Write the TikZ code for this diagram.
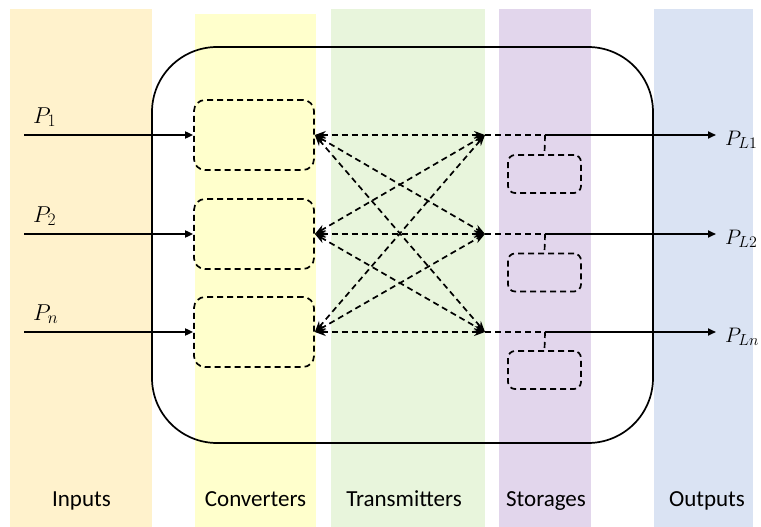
\RequirePackage{fix-cm}
\documentclass[tikz,border=0pt]{standalone}
\usepackage{fontspec}
\setsansfont{Carlito}
\usetikzlibrary{arrows.meta}
\DeclareMathSizes{23}{23}{17.5}{13}
\DeclareMathSizes{21}{21}{16}{12}

\definecolor{inputc}{HTML}{FFF2CC}
\definecolor{convc}{HTML}{FFFFCC}
\definecolor{transc}{HTML}{E8F5DC}
\definecolor{storc}{HTML}{E2D6EC}
\definecolor{outc}{HTML}{DAE3F3}

\begin{document}
\begin{tikzpicture}[x=1pt,y=-1pt,
  dashline/.style={line width=1.7pt, dash pattern=on 6pt off 4pt},
  convbox/.style={draw, dashline, rounded corners=11pt, minimum width=120pt, minimum height=70pt, inner sep=0pt},
  storbox/.style={draw, dashline, rounded corners=7pt, minimum width=73pt, minimum height=38pt, inner sep=0pt},
  feed/.style={line width=1.7pt, -{Triangle[length=8pt,width=7pt]}},
  link/.style={dashline, {Stealth[length=11pt,width=8pt]}-{Stealth[length=11pt,width=8pt]}},
  bandlabel/.style={anchor=base, font=\sffamily\fontsize{23}{27}\selectfont},
  inlabel/.style={anchor=base west, inner sep=0pt, font=\fontsize{23}{27}\selectfont},
  outlabel/.style={anchor=base west, inner sep=0pt, font=\fontsize{21}{25}\selectfont}
]
\useasboundingbox (0,0) rectangle (761,527);

% background bands
\fill[inputc] (10,9) rectangle (152,527);
\fill[convc]  (195,14) rectangle (316,527);
\fill[transc] (331,9) rectangle (485,527);
\fill[storc]  (499,9) rectangle (591,527);
\fill[outc]   (654,9) rectangle (753,527);

% band titles
\node[bandlabel] (tin)  at (81.5,506) {Inputs};
\node[bandlabel] (tcv)  at (255.5,506) {Converters};
\node[bandlabel] (ttr)  at (404,506) {Transmitters};
\node[bandlabel] (tst)  at (546,506) {Storages};
\node[bandlabel] (tout) at (707,506) {Outputs};

% system boundary
\node[draw, line width=1.7pt, rounded corners=65pt, minimum width=501pt, minimum height=396pt, inner sep=0pt] (frame) at (402.5,245) {};

% converters
\node[convbox] (c1) at (254,135) {};
\node[convbox] (c2) at (254,234) {};
\node[convbox] (c3) at (254,332) {};

% storages
\node[storbox] (s1) at (544.5,174) {};
\node[storbox] (s2) at (544.5,272.5) {};
\node[storbox] (s3) at (544.5,370) {};

% coordinates along the three lines
\foreach \i/\y in {1/135,2/234,3/332}{
  \coordinate (in\i) at (24,\y);
  \coordinate (t\i) at (485,\y);
  \coordinate (j\i) at (545,\y);
  \coordinate (o\i) at (716,\y);
}

% inputs
\draw[feed] (in1) -- (c1.west);
\draw[feed] (in2) -- (c2.west);
\draw[feed] (in3) -- (c3.west);
\node[inlabel] (p1) at (33,123) {$P_1$};
\node[inlabel] (p2) at (33,222) {$P_2$};
\node[inlabel] (p3) at (33,320) {$P_n$};

% transmission links
\foreach \a in {1,2,3}{
  \foreach \b in {1,2,3}{
    \draw[link] (c\a.east) -- (t\b);
  }
}

% storage taps and outputs
\foreach \i in {1,2,3}{
  \draw[dashline] (t\i) -- (j\i);
  \draw[dashline] (j\i) -- (s\i.north);
  \draw[feed] (j\i) -- (o\i);
}
\node[outlabel] (q1) at (725,145) {$P_{L1}$};
\node[outlabel] (q2) at (725,244) {$P_{L2}$};
\node[outlabel] (q3) at (725,342) {$P_{Ln}$};
\end{tikzpicture}
\end{document}
